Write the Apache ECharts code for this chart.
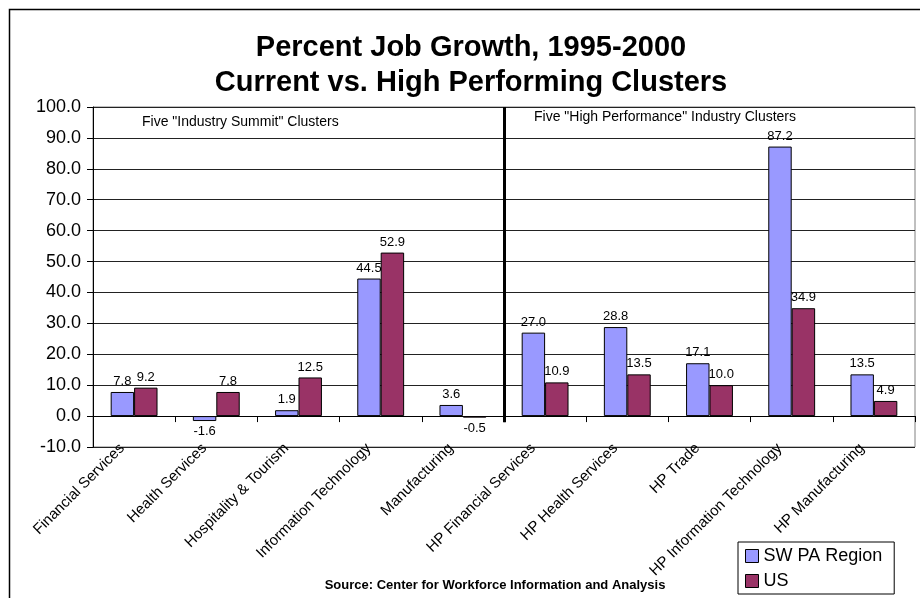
<!DOCTYPE html>
<html>
<head>
<meta charset="utf-8">
<script src="https://cdn.jsdelivr.net/npm/echarts@6/dist/echarts.min.js"></script>
<style>
  html, body { margin: 0; padding: 0; background: #fff; }
  #chart { width: 920px; height: 598px; }
</style>
</head>
<body>
<div id="chart"></div>
<script>
// Clusters along the horizontal axis
const categories = [
  'Financial Services', 'Health Services', 'Hospitality & Tourism',
  'Information Technology', 'Manufacturing', 'HP Financial Services',
  'HP Health Services', 'HP Trade', 'HP Information Technology', 'HP Manufacturing'
];
// Percent job growth 1995-2000
const swpaRegion = [7.8, -1.6, 1.9, 44.5, 3.6, 27.0, 28.8, 17.1, 87.2, 13.5];
const usGrowth   = [9.2, 7.8, 12.5, 52.9, -0.5, 10.9, 13.5, 10.0, 34.9, 4.9];
const seriesNames = ['SW PA Region', 'US'];
const titleLines = ['Percent Job Growth, 1995-2000', 'Current vs. High Performing Clusters'];
const groupNotes = ['Five "Industry Summit" Clusters', 'Five "High Performance" Industry Clusters'];
const sourceNote = 'Source: Center for Workforce Information and Analysis';

const FONT = '"Liberation Sans", Arial, Helvetica, sans-serif';

// negative values get their label under the bar
function toItems(values) {
  return values.map(v => v < 0 ? { value: v, label: { position: 'bottom' } } : v);
}

const barLabel = {
  show: true,
  position: 'top',
  distance: 4,
  color: '#000',
  fontFamily: FONT,
  fontSize: 13,
  formatter: p => Number(p.value).toFixed(1)
};

const chart = echarts.init(document.getElementById('chart'), null, { renderer: 'canvas' });

chart.setOption({
  animation: false,
  backgroundColor: '#fff',
  textStyle: { fontFamily: FONT },
  grid: {
    left: 93, right: 5, top: 107, bottom: 151,
    containLabel: false, outerBoundsMode: 'none',
    show: true, borderColor: '#808080', borderWidth: 1, backgroundColor: '#fff'
  },
  legend: {
    data: seriesNames,
    orient: 'vertical',
    left: 738, top: 542,
    padding: [5, 12, 4, 7],
    itemGap: 7,
    itemWidth: 13, itemHeight: 13,
    borderColor: '#000', borderWidth: 1,
    backgroundColor: '#fff',
    icon: 'rect',
    itemStyle: { borderColor: '#000', borderWidth: 1 },
    textStyle: { fontFamily: FONT, fontSize: 18, color: '#000' }
  },
  xAxis: [
    {
      type: 'category',
      data: categories,
      axisLine: { onZero: true, lineStyle: { color: '#000', width: 1 } },
      axisTick: { show: true, length: 6, lineStyle: { color: '#000' } },
      axisLabel: {
        interval: 0, rotate: 45, margin: -13,
        padding: [0, 17, 0, 0],
        fontFamily: FONT, fontSize: 15, color: '#000'
      },
      splitLine: { show: false }
    },
    {
      // helper axis for the group divider
      type: 'value', min: 0, max: 10, show: false
    }
  ],
  yAxis: {
    type: 'value',
    min: -10, max: 100, interval: 10,
    axisLine: { show: true, lineStyle: { color: '#000', width: 1 } },
    axisTick: { show: true, length: 6, lineStyle: { color: '#000' } },
    axisLabel: {
      margin: 12, fontFamily: FONT, fontSize: 18, color: '#000',
      formatter: v => v.toFixed(1)
    },
    splitLine: { show: true, lineStyle: { color: '#222', width: 1 } }
  },
  series: [
    {
      name: seriesNames[0], type: 'bar', data: toItems(swpaRegion),
      barGap: '0%', barCategoryGap: '43%',
      itemStyle: { color: '#9999FF', borderColor: '#000', borderWidth: 1 },
      label: barLabel
    },
    {
      name: seriesNames[1], type: 'bar', data: toItems(usGrowth),
      barGap: '0%', barCategoryGap: '43%',
      itemStyle: { color: '#993366', borderColor: '#000', borderWidth: 1 },
      label: barLabel
    },
    {
      // divider between the two cluster groups
      type: 'line', xAxisIndex: 1, yAxisIndex: 0, data: [],
      silent: true,
      markLine: {
        silent: true, symbol: 'none', animation: false,
        label: { show: false },
        lineStyle: { color: '#000', width: 3, type: 'solid' },
        data: [[{ coord: [5, 100] }, { coord: [5, -2] }]]
      }
    }
  ],
  graphic: [
    {
      type: 'rect', left: 7, top: 7, silent: true,
      shape: { x: 0, y: 0, width: 1000, height: 1000 },
      style: { fill: 'none', stroke: '#000', lineWidth: 1.5 },
      z: 100
    },
    {
      type: 'text', x: 471, y: 30,
      style: {
        text: titleLines.join('\n'), textAlign: 'center', textVerticalAlign: 'top',
        font: 'bold 29px ' + FONT, lineHeight: 35, fill: '#000'
      }
    },
    {
      type: 'text', x: 142, y: 115,
      style: { text: groupNotes[0], font: '14px ' + FONT, fill: '#000' }
    },
    {
      type: 'text', x: 534, y: 110,
      style: { text: groupNotes[1], font: '14px ' + FONT, fill: '#000' }
    },
    {
      type: 'text', x: 495, y: 579,
      style: { text: sourceNote, textAlign: 'center', font: 'bold 13px ' + FONT, fill: '#000' }
    }
  ]
});
</script>
</body>
</html>
